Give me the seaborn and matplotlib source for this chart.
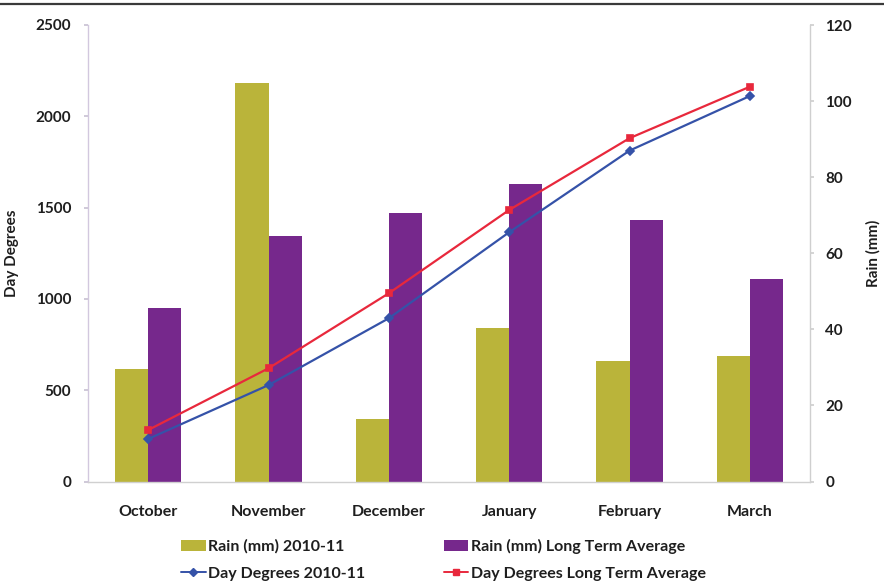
import matplotlib
matplotlib.use("Agg")
import matplotlib.pyplot as plt
import pandas as pd
import seaborn as sns
from matplotlib.lines import Line2D
from matplotlib.patches import Patch

# Monthly data for the 2010-11 season against the long term average
months = ["October", "November", "December", "January", "February", "March"]
rain_2010 = [29.5, 104.7, 16.4, 40.4, 31.8, 33.0]
rain_lta = [45.7, 64.5, 70.5, 78.1, 68.7, 53.2]
dd_2010 = [233, 528, 894, 1365, 1812, 2111]
dd_lta = [282, 620, 1031, 1487, 1880, 2162]

rain_labels = ["Rain (mm) 2010-11", "Rain (mm) Long Term Average"]
dd_labels = ["Day Degrees 2010-11", "Day Degrees Long Term Average"]

OLIVE = "#bab43a"
PURPLE = "#76288c"
BLUE = "#3552a8"
RED = "#e8283c"
INK = "#1e1e1e"

sns.set_theme(style="white")
plt.rcParams["font.family"] = ["Lato", "DejaVu Sans"]
plt.rcParams["font.weight"] = "bold"

rain_df = pd.DataFrame({
    "Month": months * 2,
    "Rain": rain_2010 + rain_lta,
    "Series": [rain_labels[0]] * len(months) + [rain_labels[1]] * len(months),
})
dd_df = pd.DataFrame({
    "Month": months * 2,
    "DD": dd_2010 + dd_lta,
    "Series": [dd_labels[0]] * len(months) + [dd_labels[1]] * len(months),
})

W, H = 884, 584
fig = plt.figure(figsize=(W / 100, H / 100), dpi=100)
left, right, top, bottom = 88, 810, 25, 481.5
ax = fig.add_axes([left / W, 1 - bottom / H, (right - left) / W, (bottom - top) / H])
ax2 = ax.twinx()

# Rain bars on the right-hand axis
sns.barplot(data=rain_df, x="Month", y="Rain", hue="Series", order=months,
            hue_order=rain_labels, palette=[OLIVE, PURPLE], saturation=1,
            width=0.55, ax=ax2, legend=False, errorbar=None, linewidth=0)

# Day-degree lines on the left-hand axis, drawn above the bars
sns.pointplot(data=dd_df, x="Month", y="DD", hue="Series", order=months,
              hue_order=dd_labels, palette=[BLUE, RED], markers=["D", "s"],
              linestyles=["-", "-"], markersize=4.5, linewidth=1.6,
              errorbar=None, ax=ax, legend=False)

ax.set_zorder(ax2.get_zorder() + 1)
ax.patch.set_visible(False)

ax.set_xlim(-0.5, len(months) - 0.5)
ax.set_ylim(0, 2500)
ax.set_yticks(range(0, 2501, 500))
ax2.set_ylim(0, 120)
ax2.set_yticks(range(0, 121, 20))

ax.set_xticks(range(len(months)))
ax.set_xticklabels(months, fontsize=11.5, fontweight="bold", color=INK)
ax.tick_params(axis="x", length=0, pad=17)
ax.tick_params(axis="y", labelsize=11, labelcolor=INK, length=3,
               color="#c9c2d4", pad=9, left=True)
ax2.tick_params(axis="y", labelsize=11, labelcolor=INK, length=3,
                color="#cfcfcf", pad=8, right=True)
for lab in ax.get_yticklabels() + ax2.get_yticklabels():
    lab.set_fontweight("bold")

ax.set_xlabel("")
ax2.set_xlabel("")
ax.set_ylabel("Day Degrees", fontsize=11, fontweight="bold", color=INK, labelpad=12)
ax2.set_ylabel("Rain (mm)", fontsize=11, fontweight="bold", color=INK,
               rotation=90, labelpad=10)

for a in (ax, ax2):
    for s in a.spines.values():
        s.set_visible(False)
ax.spines["left"].set_visible(True)
ax.spines["left"].set_color("#d2c8de")
ax.spines["left"].set_linewidth(1.0)
ax.spines["bottom"].set_visible(True)
ax.spines["bottom"].set_color("#d0d0d0")
ax.spines["bottom"].set_linewidth(1.0)
ax2.spines["right"].set_visible(True)
ax2.spines["right"].set_color("#cfcfcf")
ax2.spines["right"].set_linewidth(1.0)

# Legend below the plot, two columns
handles = [
    Patch(facecolor=OLIVE, edgecolor="none", label=rain_labels[0]),
    Line2D([0], [0], color=BLUE, marker="D", markersize=4, lw=1.4, label=dd_labels[0]),
    Patch(facecolor=PURPLE, edgecolor="none", label=rain_labels[1]),
    Line2D([0], [0], color=RED, marker="s", markersize=5, lw=1.4, label=dd_labels[1]),
]
leg = fig.legend(handles=handles, ncol=2, loc="upper left",
                 bbox_to_anchor=(181 / W, 1 - 539 / H), frameon=False,
                 prop={"family": ["Lato", "DejaVu Sans"], "weight": "bold", "size": 11.5},
                 handlelength=1.55, handleheight=0.6, handletextpad=0.15,
                 columnspacing=4.9, labelspacing=0.8, borderpad=0, borderaxespad=0)
for t in leg.get_texts():
    t.set_color(INK)

# Rule along the top edge
fig.add_artist(Line2D([0, 1], [1 - 4 / H, 1 - 4 / H], transform=fig.transFigure,
                      color="#3a3a3a", lw=1.6))

fig.savefig("out.png", dpi=100)
